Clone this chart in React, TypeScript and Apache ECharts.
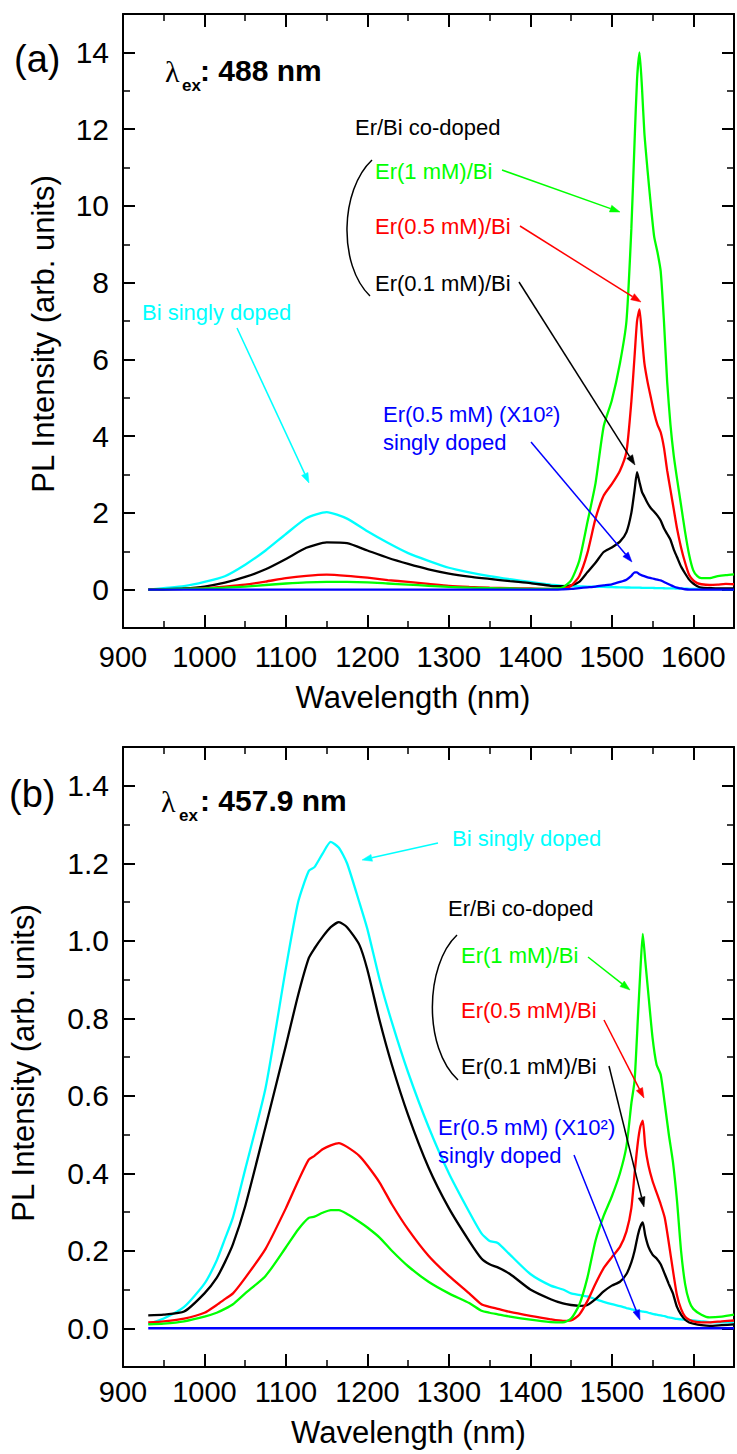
import React, { useEffect, useRef } from "react";
import * as echarts from "echarts";

const FONT = "'Liberation Sans', Arial, Helvetica, sans-serif";
const SERIF = "'Liberation Serif', 'Times New Roman', serif";
const BLACK = "#000000";
const RED = "#ff0000";
const GREEN = "#00ff00";
const BLUE = "#0000ff";
const CYAN = "#00ffff";

// ---------- Panel (a): excitation 488 nm ----------
const WL_A = [931, 950, 975, 1000, 1025, 1050, 1075, 1100, 1125, 1150, 1175, 1200, 1225, 1250, 1275, 1300, 1325, 1350, 1375, 1400, 1425, 1440, 1450, 1460, 1470, 1480, 1490, 1500, 1510, 1518, 1524, 1528, 1531, 1534, 1537, 1540, 1544, 1548, 1552, 1556, 1560, 1564, 1568, 1572, 1576, 1580, 1585, 1590, 1595, 1600, 1605, 1610, 1620, 1630, 1640, 1650];
const A_BI = [0, 0.04, 0.09, 0.2, 0.35, 0.65, 1.02, 1.45, 1.86, 2.02, 1.85, 1.52, 1.22, 0.95, 0.75, 0.57, 0.45, 0.35, 0.27, 0.2, 0.13, 0.1, 0.09, 0.085, 0.08, 0.075, 0.07, 0.065, 0.06, 0.056, 0.054, 0.052, 0.05, 0.05, 0.048, 0.047, 0.045, 0.044, 0.042, 0.04, 0.038, 0.036, 0.034, 0.032, 0.03, 0.028, 0.026, 0.024, 0.022, 0.02, 0.018, 0.016, 0.014, 0.012, 0.01, 0.01];
const A_ER01 = [0, 0.01, 0.03, 0.08, 0.18, 0.33, 0.53, 0.8, 1.09, 1.23, 1.21, 1.02, 0.83, 0.67, 0.53, 0.42, 0.34, 0.28, 0.22, 0.17, 0.1, 0.09, 0.11, 0.2, 0.45, 0.7, 0.98, 1.1, 1.25, 1.5, 2.0, 2.6, 3.06, 2.8, 2.55, 2.42, 2.25, 2.12, 2.03, 1.93, 1.8, 1.6, 1.45, 1.3, 1.05, 0.85, 0.6, 0.42, 0.26, 0.16, 0.09, 0.05, 0.04, 0.03, 0.03, 0.03];
const A_ER05 = [0, 0.01, 0.02, 0.04, 0.08, 0.13, 0.21, 0.3, 0.36, 0.39, 0.36, 0.31, 0.25, 0.2, 0.15, 0.1, 0.07, 0.05, 0.04, 0.03, 0.02, 0.03, 0.1, 0.35, 0.95, 1.85, 2.45, 2.75, 3.1, 3.6, 4.9, 6.1, 7.0, 7.3, 6.6, 5.9, 5.4, 5.0, 4.6, 4.3, 4.1, 3.7, 3.1, 2.6, 2.1, 1.6, 1.1, 0.7, 0.38, 0.24, 0.17, 0.14, 0.12, 0.13, 0.15, 0.14];
const A_ER1 = [0, 0.01, 0.02, 0.03, 0.05, 0.08, 0.12, 0.16, 0.19, 0.2, 0.2, 0.19, 0.16, 0.13, 0.1, 0.07, 0.05, 0.04, 0.03, 0.02, 0.02, 0.06, 0.24, 0.75, 1.75, 2.77, 4.25, 4.93, 5.9, 7.0, 9.4, 11.7, 13.3, 14.0, 13.1, 11.9, 10.9, 10.0, 9.2, 8.8, 8.3, 7.0, 5.4, 4.3, 3.5, 2.9, 2.2, 1.5, 0.9, 0.5, 0.35, 0.3, 0.3, 0.35, 0.38, 0.4];
const A_ER_ONLY = [0, 0, 0, 0, 0, 0, 0, 0, 0, 0, 0, 0, 0, 0, 0, 0, 0, 0, 0, 0, 0, 0.01, 0.02, 0.04, 0.06, 0.08, 0.11, 0.14, 0.2, 0.26, 0.36, 0.45, 0.45, 0.4, 0.37, 0.35, 0.32, 0.3, 0.28, 0.26, 0.24, 0.2, 0.16, 0.12, 0.08, 0.05, 0.03, 0.01, 0, 0, 0, 0, 0, 0, 0, 0];

// ---------- Panel (b): excitation 457.9 nm ----------
const WL_B = [931, 950, 975, 1000, 1015, 1025, 1035, 1050, 1075, 1100, 1115, 1128, 1135, 1145, 1155, 1165, 1175, 1190, 1200, 1215, 1230, 1250, 1275, 1300, 1325, 1340, 1350, 1360, 1375, 1400, 1425, 1440, 1450, 1460, 1470, 1480, 1490, 1500, 1510, 1518, 1524, 1528, 1532, 1535, 1538, 1541, 1545, 1550, 1555, 1560, 1565, 1570, 1575, 1580, 1585, 1590, 1595, 1600, 1610, 1620, 1635, 1650];
const B_BI = [0.011, 0.025, 0.055, 0.115, 0.175, 0.23, 0.286, 0.41, 0.62, 0.93, 1.1, 1.18, 1.19, 1.225, 1.255, 1.24, 1.2, 1.1, 1.03, 0.9, 0.79, 0.66, 0.52, 0.4, 0.3, 0.245, 0.225, 0.22, 0.19, 0.14, 0.11, 0.1, 0.09, 0.086, 0.082, 0.075, 0.068, 0.062, 0.057, 0.052, 0.049, 0.047, 0.045, 0.044, 0.043, 0.042, 0.04, 0.037, 0.035, 0.033, 0.031, 0.028, 0.026, 0.024, 0.023, 0.022, 0.021, 0.02, 0.018, 0.016, 0.015, 0.015];
const B_ER01 = [0.033, 0.035, 0.043, 0.09, 0.13, 0.17, 0.217, 0.315, 0.52, 0.73, 0.86, 0.955, 0.98, 1.01, 1.035, 1.048, 1.035, 0.99, 0.925, 0.794, 0.68, 0.55, 0.415, 0.31, 0.225, 0.18, 0.165, 0.157, 0.14, 0.1, 0.075, 0.064, 0.06, 0.058, 0.06, 0.075, 0.095, 0.11, 0.12, 0.14, 0.17, 0.2, 0.24, 0.262, 0.273, 0.24, 0.21, 0.19, 0.18, 0.165, 0.14, 0.114, 0.09, 0.055, 0.035, 0.022, 0.015, 0.012, 0.008, 0.006, 0.008, 0.01];
const B_ER05 = [0.015, 0.018, 0.025, 0.04, 0.06, 0.075, 0.09, 0.13, 0.205, 0.31, 0.38, 0.435, 0.445, 0.462, 0.472, 0.478, 0.468, 0.445, 0.42, 0.376, 0.32, 0.255, 0.187, 0.135, 0.09, 0.062, 0.055, 0.05, 0.042, 0.032, 0.023, 0.019, 0.02, 0.035, 0.07, 0.115, 0.155, 0.183, 0.21, 0.25, 0.31, 0.4, 0.48, 0.52, 0.536, 0.47, 0.42, 0.38, 0.35, 0.32, 0.285, 0.22, 0.15, 0.085, 0.05, 0.03, 0.022, 0.018, 0.015, 0.015, 0.018, 0.02];
const B_ER1 = [0.01, 0.012, 0.018, 0.03, 0.04, 0.05, 0.062, 0.09, 0.135, 0.209, 0.255, 0.285, 0.288, 0.298, 0.305, 0.305, 0.295, 0.275, 0.26, 0.234, 0.2, 0.16, 0.12, 0.09, 0.065, 0.045, 0.04, 0.036, 0.03, 0.022, 0.016, 0.015, 0.025, 0.06, 0.13, 0.226, 0.29, 0.34, 0.4, 0.47, 0.58, 0.64, 0.8, 0.92, 1.018, 0.95, 0.86, 0.75, 0.68, 0.655, 0.58, 0.5, 0.43, 0.33, 0.2, 0.114, 0.07, 0.05, 0.035, 0.028, 0.03, 0.035];
const B_ER_ONLY = [0, 0, 0, 0, 0, 0, 0, 0, 0, 0, 0, 0, 0, 0, 0, 0, 0, 0, 0, 0, 0, 0, 0, 0, 0, 0, 0, 0, 0, 0, 0, 0, 0, 0, 0, 0, 0, 0, 0, 0, 0, 0, 0, 0, 0, 0, 0, 0, 0, 0, 0, 0, 0, 0, 0, 0, 0, 0, 0, 0, 0, 0];

// ---------- tick labels ----------
const X_TICKS = [900, 1000, 1100, 1200, 1300, 1400, 1500, 1600];
const Y_TICKS_A = [0, 2, 4, 6, 8, 10, 12, 14];
const Y_TICKS_B = [0, 0.2, 0.4, 0.6, 0.8, 1.0, 1.2, 1.4];

const pairs = (xs: number[], ys: number[]) => xs.map((x, i) => [x, ys[i]]);

function lineSeries(name: string, xs: number[], ys: number[], color: string, xi: number, yi: number) {
  return {
    type: "line",
    name,
    data: pairs(xs, ys),
    xAxisIndex: xi,
    yAxisIndex: yi,
    symbol: "none",
    showSymbol: false,
    smooth: 0.2,
    silent: true,
    lineStyle: { color, width: 2.3 },
    itemStyle: { color },
    z: 3,
  };
}

const axisLineStyle = { color: BLACK, width: 2 };

function xMain(grid: number, position: string, labels: boolean, margin: number, nameGap: number, padR: number) {
  const ax: any = {
    type: "value",
    gridIndex: grid,
    position,
    min: 900,
    max: 1650,
    interval: 50,
    axisLine: { show: true, onZero: false, lineStyle: axisLineStyle },
    axisTick: { show: true, inside: true, length: 7, lineStyle: { color: BLACK, width: 1.5 } },
    axisLabel: labels
      ? {
          show: true,
          margin,
          fontSize: 29,
          fontFamily: FONT,
          color: BLACK,
          formatter: (v: number) => (X_TICKS.indexOf(Math.round(v)) >= 0 ? String(Math.round(v)) : ""),
        }
      : { show: false },
    splitLine: { show: false },
  };
  if (labels) {
    ax.name = "Wavelength (nm)";
    ax.nameLocation = "middle";
    ax.nameGap = nameGap;
    ax.nameTextStyle = { fontSize: 31, fontFamily: FONT, color: BLACK, padding: [0, padR, 0, 0] };
  }
  return ax;
}

function xMajor(grid: number, position: string) {
  return {
    type: "value",
    gridIndex: grid,
    position,
    min: 900,
    max: 1650,
    axisLine: { show: false, onZero: false },
    axisTick: { show: true, inside: true, length: 13, customValues: X_TICKS, lineStyle: { color: BLACK, width: 2 } },
    axisLabel: { show: false },
    splitLine: { show: false },
  };
}

function yMain(
  grid: number,
  position: string,
  min: number,
  max: number,
  interval: number,
  fmt: ((v: number) => string) | null,
  nameGap: number,
  padR: number
) {
  const ax: any = {
    type: "value",
    gridIndex: grid,
    position,
    min,
    max,
    interval,
    axisLine: { show: true, onZero: false, lineStyle: axisLineStyle },
    axisTick: { show: true, inside: true, length: 7, lineStyle: { color: BLACK, width: 1.5 } },
    axisLabel: fmt
      ? { show: true, margin: 14, fontSize: 30, fontFamily: FONT, color: BLACK, formatter: fmt }
      : { show: false },
    splitLine: { show: false },
  };
  if (fmt) {
    ax.name = "PL Intensity (arb. units)";
    ax.nameLocation = "middle";
    ax.nameGap = nameGap;
    ax.nameRotate = 90;
    ax.nameTextStyle = { fontSize: 31, fontFamily: FONT, color: BLACK, padding: [0, padR, 0, 0] };
  }
  return ax;
}

function yMajor(grid: number, position: string, min: number, max: number, ticks: number[]) {
  return {
    type: "value",
    gridIndex: grid,
    position,
    min,
    max,
    axisLine: { show: false, onZero: false },
    axisTick: { show: true, inside: true, length: 12, customValues: ticks, lineStyle: { color: BLACK, width: 2 } },
    axisLabel: { show: false },
    splitLine: { show: false },
  };
}

// ---------- annotation helpers (pixel positions of the page) ----------
function txt(text: string, x: number, y: number, color: string, size = 22, extra: any = {}) {
  return {
    type: "text",
    x,
    y,
    silent: true,
    z: 100,
    style: {
      text,
      fill: color,
      fontSize: size,
      fontFamily: FONT,
      align: "left",
      textAlign: "left",
      verticalAlign: "middle",
      textVerticalAlign: "middle",
      ...extra,
    },
  };
}

function arrow(x1: number, y1: number, x2: number, y2: number, color: string) {
  const dx = x2 - x1;
  const dy = y2 - y1;
  const L = Math.hypot(dx, dy);
  const ux = dx / L;
  const uy = dy / L;
  const hl = 10;
  const hw = 3.5;
  const bx = x2 - ux * hl;
  const by = y2 - uy * hl;
  return [
    { type: "line", silent: true, z: 100, shape: { x1, y1, x2: bx, y2: by }, style: { stroke: color, lineWidth: 1.5 } },
    {
      type: "polygon",
      silent: true,
      z: 100,
      shape: { points: [[x2, y2], [bx - uy * hw, by + ux * hw], [bx + uy * hw, by - ux * hw]] },
      style: { fill: color, stroke: color, lineWidth: 0.5 },
    },
  ];
}

function arc(x1: number, y1: number, c1x: number, c1y: number, c2x: number, c2y: number, x2: number, y2: number) {
  return {
    type: "bezierCurve",
    silent: true,
    z: 100,
    shape: { x1, y1, cpx1: c1x, cpy1: c1y, cpx2: c2x, cpy2: c2y, x2, y2 },
    style: { stroke: BLACK, fill: "none", lineWidth: 1.5 },
  };
}

function buildOption() {
  const fmtA = (v: number) => {
    const k = Math.round(v);
    return Y_TICKS_A.indexOf(k) >= 0 ? String(k) : "";
  };
  const fmtB = (v: number) => {
    const k = Math.round(v * 10);
    return k % 2 === 0 && k >= 0 ? (k / 10).toFixed(1) : "";
  };

  const graphics: any[] = [
    // panel (a)
    txt("(a)", 14, 59, BLACK, 38),
    txt("λ", 165, 71, BLACK, 30, { fontFamily: SERIF }),
    txt("ex", 182, 85, BLACK, 17, { fontWeight: "bold" }),
    txt(": 488 nm", 200, 70, BLACK, 30, { fontWeight: "bold" }),
    txt("Er/Bi co-doped", 355, 127, BLACK),
    txt("Er(1 mM)/Bi", 375, 171, GREEN),
    txt("Er(0.5 mM)/Bi", 375, 226, RED),
    txt("Er(0.1 mM)/Bi", 375, 283, BLACK),
    txt("Bi singly doped", 142, 312, CYAN),
    txt("Er(0.5 mM) (X10²)", 383, 414, BLUE),
    txt("singly doped", 383, 442, BLUE),
    arc(372, 160, 340, 190, 338, 265, 370, 296),
    ...arrow(502, 170, 620, 212, GREEN),
    ...arrow(520, 226, 641, 302, RED),
    ...arrow(519, 282, 635, 465, BLACK),
    ...arrow(237, 328, 309, 483, CYAN),
    ...arrow(531, 442, 632, 562, BLUE),
    // panel (b)
    txt("(b)", 9, 794, BLACK, 38),
    txt("λ", 161, 801, BLACK, 30, { fontFamily: SERIF }),
    txt("ex", 179, 815, BLACK, 17, { fontWeight: "bold" }),
    txt(": 457.9 nm", 200, 800, BLACK, 30, { fontWeight: "bold" }),
    txt("Bi singly doped", 452, 838, CYAN),
    txt("Er/Bi co-doped", 448, 908, BLACK),
    txt("Er(1 mM)/Bi", 461, 955, GREEN),
    txt("Er(0.5 mM)/Bi", 461, 1010, RED),
    txt("Er(0.1 mM)/Bi", 461, 1066, BLACK),
    txt("Er(0.5 mM) (X10²)", 438, 1127, BLUE),
    txt("singly doped", 438, 1155, BLUE),
    arc(457, 935, 425, 965, 423, 1048, 458, 1080),
    ...arrow(438, 843, 362, 860, CYAN),
    ...arrow(588, 957, 630, 990, GREEN),
    ...arrow(604, 1020, 644, 1098, RED),
    ...arrow(609, 1066, 644, 1207, BLACK),
    ...arrow(574, 1155, 640, 1320, BLUE),
  ];

  return {
    animation: false,
    backgroundColor: "#ffffff",
    textStyle: { fontFamily: FONT },
    grid: [
      { left: 123, top: 14, width: 613, height: 614 },
      { left: 122, top: 747, width: 614, height: 620 },
    ],
    xAxis: [
      xMain(0, "bottom", true, 14, 54, 31),
      xMajor(0, "bottom"),
      xMain(0, "top", false, 0, 0, 0),
      xMajor(0, "top"),
      xMain(1, "bottom", true, 10, 50, 40),
      xMajor(1, "bottom"),
      xMain(1, "top", false, 0, 0, 0),
      xMajor(1, "top"),
    ],
    yAxis: [
      yMain(0, "left", -1, 15, 1, fmtA, 64, 26),
      yMajor(0, "left", -1, 15, Y_TICKS_A),
      yMain(0, "right", -1, 15, 1, null, 0, 0),
      yMajor(0, "right", -1, 15, Y_TICKS_A),
      yMain(1, "left", -0.1, 1.5, 0.1, fmtB, 84, 12),
      yMajor(1, "left", -0.1, 1.5, Y_TICKS_B),
      yMain(1, "right", -0.1, 1.5, 0.1, null, 0, 0),
      yMajor(1, "right", -0.1, 1.5, Y_TICKS_B),
    ],
    series: [
      lineSeries("Bi singly doped (a)", WL_A, A_BI, CYAN, 0, 0),
      lineSeries("Er(0.1 mM)/Bi (a)", WL_A, A_ER01, BLACK, 0, 0),
      lineSeries("Er(0.5 mM)/Bi (a)", WL_A, A_ER05, RED, 0, 0),
      lineSeries("Er(1 mM)/Bi (a)", WL_A, A_ER1, GREEN, 0, 0),
      lineSeries("Er(0.5 mM) singly doped (a)", WL_A, A_ER_ONLY, BLUE, 0, 0),
      lineSeries("Bi singly doped (b)", WL_B, B_BI, CYAN, 4, 4),
      lineSeries("Er(0.1 mM)/Bi (b)", WL_B, B_ER01, BLACK, 4, 4),
      lineSeries("Er(0.5 mM)/Bi (b)", WL_B, B_ER05, RED, 4, 4),
      lineSeries("Er(1 mM)/Bi (b)", WL_B, B_ER1, GREEN, 4, 4),
      lineSeries("Er(0.5 mM) singly doped (b)", WL_B, B_ER_ONLY, BLUE, 4, 4),
    ],
    graphic: { elements: graphics },
  };
}

export default function App() {
  const ref = useRef<HTMLDivElement>(null);
  useEffect(() => {
    if (!ref.current) return;
    const chart = echarts.init(ref.current, undefined, { renderer: "svg" });
    chart.setOption(buildOption() as any);
    return () => {
      chart.dispose();
    };
  }, []);
  return (
    <div
      ref={ref}
      style={{ position: "fixed", left: 0, top: 0, width: 737, height: 1454, background: "#ffffff" }}
    />
  );
}
